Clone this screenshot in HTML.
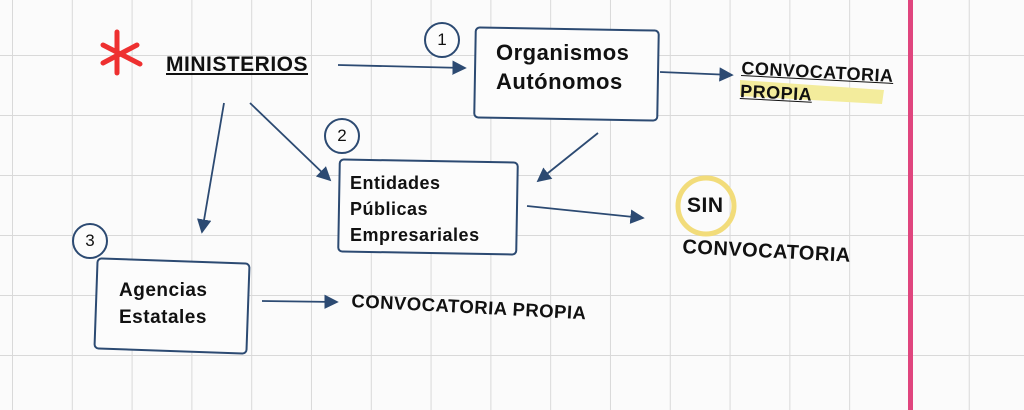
<!DOCTYPE html>
<html><head><meta charset="utf-8"><style>
body{margin:0;width:1024px;height:410px;overflow:hidden;background:#fbfbfb;position:relative;font-family:"Liberation Sans",sans-serif}
.grid{position:absolute;inset:0;background-image:linear-gradient(90deg,#d9d9d9 1px,transparent 1px),linear-gradient(#d9d9d9 1px,transparent 1px);background-size:59.8px 60px;background-position:12px 55px}
.t{position:absolute;color:#111;font-size:17px;letter-spacing:0.5px;white-space:nowrap;font-weight:bold}
.box{position:absolute;border:2.5px solid #2c4a72;border-radius:5px;background:#fcfcfc;box-sizing:border-box}
.c{position:absolute;border:2.5px solid #2c4a72;border-radius:50%;width:36px;height:36px;box-sizing:border-box;text-align:center;line-height:31px;font-size:17px;color:#111;background:#fcfcfc}
</style></head><body>
<div class="grid"></div>
<div style="position:absolute;left:908px;top:0;width:5px;height:410px;background:#e0457e"></div>
<svg width="1024" height="410" style="position:absolute;left:0;top:0">
<defs><marker id="a" markerWidth="8" markerHeight="8" refX="7" refY="4" orient="auto"><path d="M0,0L8,4L0,8z" fill="#2c4a72"/></marker></defs>
<g stroke="#2c4a72" stroke-width="1.8" fill="none" marker-end="url(#a)">
<line x1="338" y1="65" x2="465" y2="68"/>
<line x1="660" y1="72" x2="732" y2="75"/>
<line x1="224" y1="103" x2="202" y2="232"/>
<line x1="250" y1="103" x2="330" y2="180"/>
<line x1="598" y1="133" x2="538" y2="181"/>
<line x1="527" y1="206" x2="643" y2="218"/>
<line x1="262" y1="301" x2="337" y2="302"/>
</g>
<g stroke="#ee3030" stroke-width="5" stroke-linecap="round">
<line x1="117" y1="32" x2="117" y2="73"/><line x1="103" y1="45" x2="140" y2="64"/><line x1="103" y1="63" x2="137" y2="45"/>
</g>
<polygon points="740,80 884,90 882,104 740,96" fill="#f3ec9c"/>
<circle cx="706" cy="206" r="28" fill="none" stroke="#f2dc7a" stroke-width="5"/>
</svg>
<div class="t" style="left:166px;top:53px;font-size:21px;text-decoration:underline">MINISTERIOS</div>
<div class="box" style="left:474px;top:28px;width:185px;height:92px;transform:rotate(1deg)"></div>
<div class="t" style="left:496px;top:38px;font-size:22px;line-height:29px">Organismos<br>Autónomos</div>
<div class="t" style="left:742px;top:57px;font-size:18px;line-height:23px;text-decoration:underline;transform:rotate(3deg);transform-origin:left top">CONVOCATORIA<br>PROPIA</div>
<div class="c" style="left:424px;top:22px">1</div>
<div class="c" style="left:324px;top:118px">2</div>
<div class="c" style="left:72px;top:223px">3</div>
<div class="box" style="left:338px;top:160px;width:180px;height:94px;transform:rotate(1deg)"></div>
<div class="t" style="left:350px;top:170px;font-size:18px;line-height:26px">Entidades<br>Públicas<br>Empresariales</div>
<div class="t" style="left:687px;top:194px;font-size:21px">SIN</div>
<div class="t" style="left:683px;top:236px;font-size:20px;transform:rotate(3deg);transform-origin:left top">CONVOCATORIA</div>
<div class="box" style="left:95px;top:260px;width:154px;height:92px;transform:rotate(2deg)"></div>
<div class="t" style="left:119px;top:277px;font-size:19px;line-height:27px">Agencias<br>Estatales</div>
<div class="t" style="left:352px;top:290px;font-size:18.5px;transform:rotate(3deg);transform-origin:left top">CONVOCATORIA PROPIA</div>
</body></html>
